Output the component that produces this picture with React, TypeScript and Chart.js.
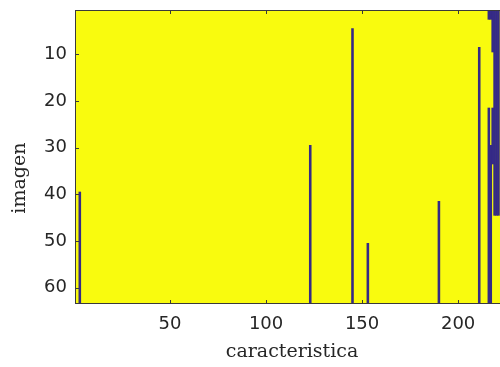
import React, { useEffect, useRef } from "react";
import { Chart, registerables } from "chart.js";
Chart.register(...registerables);

const xTicks = [50, 100, 150, 200];
const yTicks = [10, 20, 30, 40, 50, 60];
const nRows = 63;
const nCols = 226;
// runs of value 0 (dark blue) in the binary matrix: column, first row, last row
const runCols = [3, 123, 145, 153, 190, 211, 216, 216, 217, 217, 218, 218, 219, 220, 221];
const runStart = [40, 30, 5, 51, 42, 9, 1, 22, 1, 30, 1, 22, 1, 1, 1];
const runEnd = [63, 63, 63, 63, 63, 63, 2, 63, 2, 63, 9, 33, 44, 44, 44];

const YELLOW = "#F9FB0E";
const BLUE = "#352A87";
const AXIS = "#3a3a3a";
const TEXT = "#262626";

export default function App() {
  const ref = useRef<HTMLCanvasElement>(null);
  useEffect(() => {
    if (!ref.current) return;
    const data = runCols.map((c, i) => ({ x: c, y: [runStart[i] - 0.5, runEnd[i] + 0.5] }));
    const framePlugin = {
      id: "frame",
      beforeDatasetsDraw(chart: any) {
        const { ctx, chartArea: a } = chart;
        ctx.save();
        ctx.fillStyle = YELLOW;
        ctx.fillRect(a.left, a.top, a.right - a.left, a.bottom - a.top);
        ctx.restore();
      },
      afterDatasetsDraw(chart: any) {
        const { ctx, chartArea: a, scales } = chart;
        ctx.save();
        ctx.strokeStyle = AXIS;
        ctx.lineWidth = 1;
        ctx.strokeRect(a.left + 0.5, a.top + 0.5, a.right - a.left - 1, a.bottom - a.top - 1);
        const tl = 4;
        ctx.beginPath();
        for (const v of xTicks) {
          const px = Math.round(scales.x.getPixelForValue(v)) + 0.5;
          ctx.moveTo(px, a.bottom);
          ctx.lineTo(px, a.bottom - tl);
          ctx.moveTo(px, a.top);
          ctx.lineTo(px, a.top + tl);
        }
        for (const v of yTicks) {
          const py = Math.round(scales.y.getPixelForValue(v)) + 0.5;
          ctx.moveTo(a.left, py);
          ctx.lineTo(a.left + tl, py);
          ctx.moveTo(a.right, py);
          ctx.lineTo(a.right - tl, py);
        }
        ctx.stroke();
        ctx.restore();
      },
    };
    const chart = new Chart(ref.current, {
      type: "bar",
      data: {
        datasets: [
          {
            data: data as any,
            backgroundColor: BLUE,
            borderWidth: 0,
            barPercentage: 1,
            categoryPercentage: 1,
            grouped: false,
          } as any,
        ],
      },
      options: {
        responsive: false,
        animation: false,
        events: [],
        layout: { padding: { top: 10, left: 0, right: 0, bottom: 0 } },
        plugins: { legend: { display: false }, tooltip: { enabled: false } },
        scales: {
          x: {
            type: "linear",
            min: 0.5,
            max: nCols + 0.5,
            offset: false,
            grid: { display: false, drawTicks: false, offset: false },
            border: { display: false },
            ticks: {
              color: TEXT,
              font: { family: "DejaVu Sans", size: 18 },
              padding: 10,
              maxRotation: 0,
              autoSkip: false,
            },
            afterBuildTicks: (s: any) => {
              s.ticks = xTicks.map((v) => ({ value: v }));
            },
            afterFit: (s: any) => {
              s.height = 63;
              s.paddingLeft = 0;
              s.paddingRight = 0;
            },
            title: {
              display: true,
              text: "caracteristica",
              color: TEXT,
              font: { family: "DejaVu Serif", size: 19 },
              padding: { top: 0, bottom: 4 },
            },
          } as any,
          y: {
            type: "linear",
            reverse: true,
            min: 0.5,
            max: nRows + 0.5,
            offset: false,
            grid: { display: false, drawTicks: false },
            border: { display: false },
            ticks: {
              color: TEXT,
              font: { family: "DejaVu Sans", size: 18 },
              padding: 8,
              autoSkip: false,
            },
            afterBuildTicks: (s: any) => {
              s.ticks = yTicks.map((v) => ({ value: v }));
            },
            afterFit: (s: any) => {
              s.width = 75;
              s.paddingTop = 0;
              s.paddingBottom = 0;
            },
            title: {
              display: true,
              text: "imagen       ",
              color: TEXT,
              font: { family: "DejaVu Serif", size: 19 },
              padding: { top: 9, bottom: 0 },
            },
          } as any,
        },
      },
      plugins: [framePlugin],
    });
    return () => chart.destroy();
  }, []);
  return (
    <div
      style={{
        position: "absolute",
        left: 0,
        top: 0,
        width: 500,
        height: 367,
        overflow: "hidden",
        background: "#ffffff",
      }}
    >
      <canvas ref={ref} width={509} height={367} style={{ display: "block" }} />
    </div>
  );
}
